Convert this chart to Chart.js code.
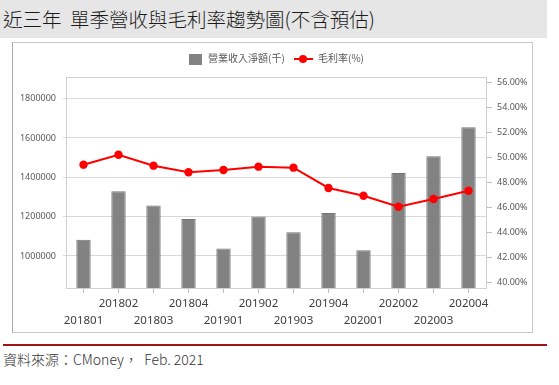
<!DOCTYPE html>
<html>
<head>
<meta charset="utf-8">
<script src="https://cdn.jsdelivr.net/npm/chart.js@4"></script>
<style>
  body { margin: 0; width: 559px; height: 385px; position: relative; background: #fff; overflow: hidden; }
  #title { position: absolute; left: 0; top: 0; width: 547px; height: 38px; background: #e6e6e6;
    font: 300 19.5px "Noto Sans CJK TC", sans-serif; color: #1a1a1a; line-height: 38px; padding-left: 3px; box-sizing: border-box; white-space: pre; }
  #box { position: absolute; left: 12px; top: 42px; width: 519px; height: 289px; border: 1px solid #c8c8c8; border-left-color: #a8a8a8; }
  #chart { position: absolute; left: 0; top: 0; }
  .lg { position: absolute; top: 9px; font: 10px "Noto Sans CJK TC", sans-serif; color: #595959; line-height: 12px; }
  #lg1box { position: absolute; left: 176px; top: 11px; width: 13px; height: 11px; background: #828282; }
  #lg2line { position: absolute; left: 281px; top: 15px; width: 19px; height: 2px; background: #ff0000; }
  #lg2dot { position: absolute; left: 286px; top: 12px; width: 8px; height: 8px; border-radius: 50%; background: #ff0000; }
  #redline { position: absolute; left: 3px; top: 344px; width: 544px; height: 2px; background: #a31515; }
  #source { position: absolute; left: 3px; top: 349px; font: 300 14px "Noto Sans CJK TC", sans-serif; color: #333; white-space: pre; }
</style>
</head>
<body>
<div id="title">近三年  單季營收與毛利率趨勢圖(不含預估)</div>
<div id="box">
  <canvas id="chart" width="519" height="289"></canvas>
  <div id="lg1box"></div>
  <div class="lg" style="left:195px">營業收入淨額(千)</div>
  <div id="lg2line"></div>
  <div id="lg2dot"></div>
  <div class="lg" style="left:305px">毛利率(%)</div>
</div>
<div id="redline"></div>
<div id="source">資料來源：CMoney，  Feb. 2021</div>
<script>
// 季度
const quarters = ['201801', '201802', '201803', '201804', '201901', '201902',
                  '201903', '201904', '202001', '202002', '202003', '202004'];
// 營業收入淨額(千)
const revenue = [1083000, 1329000, 1256000, 1188000, 1038000, 1200000,
                 1121000, 1219000, 1029000, 1422000, 1507000, 1654000];
// 毛利率(%)
const grossMargin = [49.43, 50.23, 49.35, 48.82, 49.00, 49.27,
                     49.19, 47.56, 46.94, 46.06, 46.68, 47.34];
// 刻度
const revenueTicks = [1000000, 1200000, 1400000, 1600000, 1800000];
const marginTicks = [40, 42, 44, 46, 48, 50, 52, 54, 56];

// 繪圖區外框
const areaBorder = {
    id: 'areaBorder',
    afterDraw(chart) {
        const a = chart.chartArea;
        const ctx = chart.ctx;
        ctx.save();
        ctx.strokeStyle = '#d0d0d0';
        ctx.lineWidth = 1;
        ctx.strokeRect(Math.round(a.left) + 0.5, Math.round(a.top) + 0.5,
                       Math.round(a.right - a.left), Math.round(a.bottom - a.top));
        ctx.restore();
    }
};

new Chart(document.getElementById('chart'), {
    type: 'bar',
    data: {
        labels: quarters,
        datasets: [{
            type: 'line',
            label: '毛利率(%)',
            data: grossMargin,
            yAxisID: 'y2',
            borderColor: '#ff0000',
            backgroundColor: '#ff0000',
            borderWidth: 2,
            pointRadius: 4.2,
            pointBorderWidth: 0,
            tension: 0,
            order: 0
        }, {
            label: '營業收入淨額(千)',
            data: revenue,
            yAxisID: 'y',
            backgroundColor: '#828282',
            borderColor: '#747474',
            borderWidth: 1,
            barPercentage: 0.41,
            categoryPercentage: 1,
            order: 1
        }]
    },
    options: {
        responsive: false,
        animation: false,
        layout: { padding: { top: 34, left: 0, right: 0, bottom: 0 } },
        plugins: {
            legend: { display: false },
            tooltip: { enabled: false }
        },
        scales: {
            x: {
                grid: { drawOnChartArea: false, offset: false, tickLength: 5, color: '#bfbfbf' },
                border: { display: false },
                ticks: {
                    autoSkip: false,
                    maxRotation: 0,
                    padding: 2,
                    color: '#404040',
                    font: { family: 'Noto Sans', size: 11.5, lineHeight: 1.48 },
                    callback: function(v, i) {
                        const t = this.getLabelForValue(v);
                        return i % 2 === 0 ? ['', t] : [t, ''];
                    }
                },
                afterFit(scale) { scale.height = 44; }
            },
            y: {
                position: 'left',
                min: 837000,
                max: 1910000,
                grid: { color: '#d9d9d9', tickLength: 3 },
                border: { display: false },
                ticks: {
                    padding: 7,
                    color: '#595959',
                    font: { family: 'Noto Sans', size: 9 },
                    callback: v => String(v)
                },
                afterBuildTicks(scale) { scale.ticks = revenueTicks.map(v => ({ value: v })); },
                afterFit(scale) { scale.width = 53; }
            },
            y2: {
                position: 'right',
                min: 39.54,
                max: 56.46,
                grid: { drawOnChartArea: false, tickLength: 6, color: '#bfbfbf' },
                border: { display: false },
                ticks: {
                    padding: 5,
                    color: '#595959',
                    font: { family: 'Noto Sans', size: 9 },
                    callback: v => v.toFixed(2) + '%'
                },
                afterBuildTicks(scale) { scale.ticks = marginTicks.map(v => ({ value: v })); },
                afterFit(scale) { scale.width = 46; }
            }
        }
    },
    plugins: [areaBorder]
});
</script>
</body>
</html>
